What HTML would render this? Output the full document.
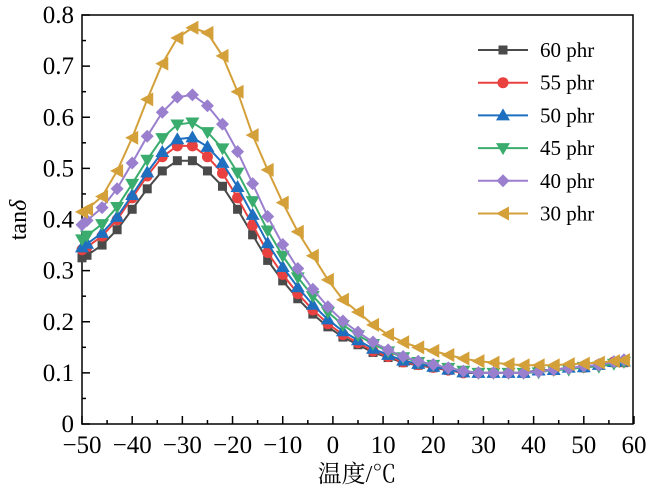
<!DOCTYPE html>
<html><head><meta charset="utf-8"><style>body{margin:0;background:#fff}svg{display:block}</style></head>
<body>
<svg id="s" width="650" height="495" xmlns="http://www.w3.org/2000/svg" font-family="Liberation Serif, serif"></svg>
<script>
const s=document.getElementById('s');
const X=x=>82+(x+50)*5.018, Y=y=>424-y*511.25;
let h='';
h+='<rect x="82" y="15" width="551" height="409" fill="none" stroke="#000" stroke-width="1.5"/>';
for(let v=-50;v<=60;v+=5){const px=X(v);const maj=v%10==0;h+=`<line x1="${px}" y1="424" x2="${px}" y2="${424-(maj?8:4)}" stroke="#000" stroke-width="1.5"/>`;
 if(maj)h+=`<text x="${px}" y="453" font-size="25" text-anchor="middle">${v<0?'−'+(-v):v}</text>`;}
for(let i=0;i<=16;i++){const v=i*0.05,py=Y(v),maj=i%2==0;h+=`<line x1="82" y1="${py}" x2="${82+(maj?8:4)}" y2="${py}" stroke="#000" stroke-width="1.5"/>`;
 if(maj)h+=`<text x="74" y="${py+8}" font-size="25" text-anchor="end">${i==0?'0':(v).toFixed(1)}</text>`;}
h+='<text x="357" y="482" font-size="24" text-anchor="middle" font-family="Liberation Serif, Noto Serif CJK SC, serif">温度/℃</text>';
h+='<text transform="translate(26,220) rotate(-90)" font-size="24" text-anchor="middle">tan<tspan font-style="italic">δ</tspan></text>';
const bx=[-52,-50,-49,-46,-43,-40,-37,-34,-31,-28,-25,-22,-19,-16,-13,-10,-7,-4,-1,2,5,8,11,14,17,20,23,26,29,32,35,38,41,44,47,50,53,56,58,62];
const by=[0.31,0.325,0.33,0.35,0.38,0.42,0.46,0.495,0.515,0.515,0.495,0.465,0.42,0.37,0.32,0.28,0.245,0.215,0.19,0.17,0.155,0.14,0.13,0.12,0.115,0.11,0.105,0.1,0.1,0.1,0.1,0.1,0.105,0.105,0.11,0.11,0.115,0.12,0.12,0.125];
function b(x){for(let i=0;i<bx.length-1;i++)if(x<=bx[i+1]){const t=(x-bx[i])/(bx[i+1]-bx[i]);return by[i]+t*(by[i+1]-by[i]);}return 0.125;}
const xs=[-50,-49,-46,-43,-40,-37,-34,-31,-28,-25,-22,-19,-16,-13,-10,-7,-4,-1,2,5,8,11,14,17,20,23,26,29,32,35,38,41,44,47,50,53,56,58];
const gold=[0.415,0.42,0.445,0.495,0.56,0.635,0.705,0.755,0.775,0.765,0.72,0.65,0.565,0.497,0.433,0.376,0.329,0.282,0.243,0.219,0.194,0.175,0.16,0.15,0.143,0.135,0.128,0.123,0.12,0.117,0.115,0.115,0.115,0.117,0.118,0.12,0.123,0.125];
const ser=[
 ['60 phr','#4a4a4a','sq',1,0,1,0],
 ['55 phr','#e8413f','ci',1.07,0,1.0,0],
 ['50 phr','#1f6fc1','tu',1.11,0.5,1.0,0],
 ['45 phr','#3aad6e','td',1.18,0.5,1.03,0],
 ['40 phr','#9a7fcf','di',1.31,0.5,1.02,0],
 ['30 phr','#d4a03a','tl',0,0,0,0]];
function mk(t,x,y,c){
 if(t=='sq')return `<rect x="${x-4.5}" y="${y-4.5}" width="9" height="9" fill="${c}"/>`;
 if(t=='ci')return `<circle cx="${x}" cy="${y}" r="5.5" fill="${c}"/>`;
 if(t=='tu')return `<polygon points="${x},${y-7} ${x-7},${y+5} ${x+7},${y+5}" fill="${c}"/>`;
 if(t=='td')return `<polygon points="${x},${y+7} ${x-7},${y-5} ${x+7},${y-5}" fill="${c}"/>`;
 if(t=='di')return `<polygon points="${x},${y-6.5} ${x+6.5},${y} ${x},${y+6.5} ${x-6.5},${y}" fill="${c}"/>`;
 return `<polygon points="${x-7},${y} ${x+6},${y-7} ${x+6},${y+7}" fill="${c}"/>`;}
ser.forEach((d,si)=>{const [n,c,t,k,sh,w,tl]=d;const pk=-29.5+sh;
 const pts=xs.map((x,i)=>{if(si==5)return [X(x),Y(gold[i])];let xp=x-sh;if(x>pk)xp=-29.5+(x-pk)/w;const v=0.1+tl+k*(b(xp)-0.1);return [X(x),Y(v)];});
 h+=`<polyline points="${pts.map(p=>p.join(',')).join(' ')}" fill="none" stroke="${c}" stroke-width="2"/>`;
 pts.forEach(p=>h+=mk(t,p[0],p[1],c));
 const ly=50+si*32.7;
 h+=`<line x1="478" y1="${ly}" x2="528" y2="${ly}" stroke="${c}" stroke-width="2"/>`+mk(t,503,ly,c);
 h+=`<text x="540" y="${ly+7}" font-size="21">${n}</text>`;});
s.innerHTML=h;
</script>
</body></html>
